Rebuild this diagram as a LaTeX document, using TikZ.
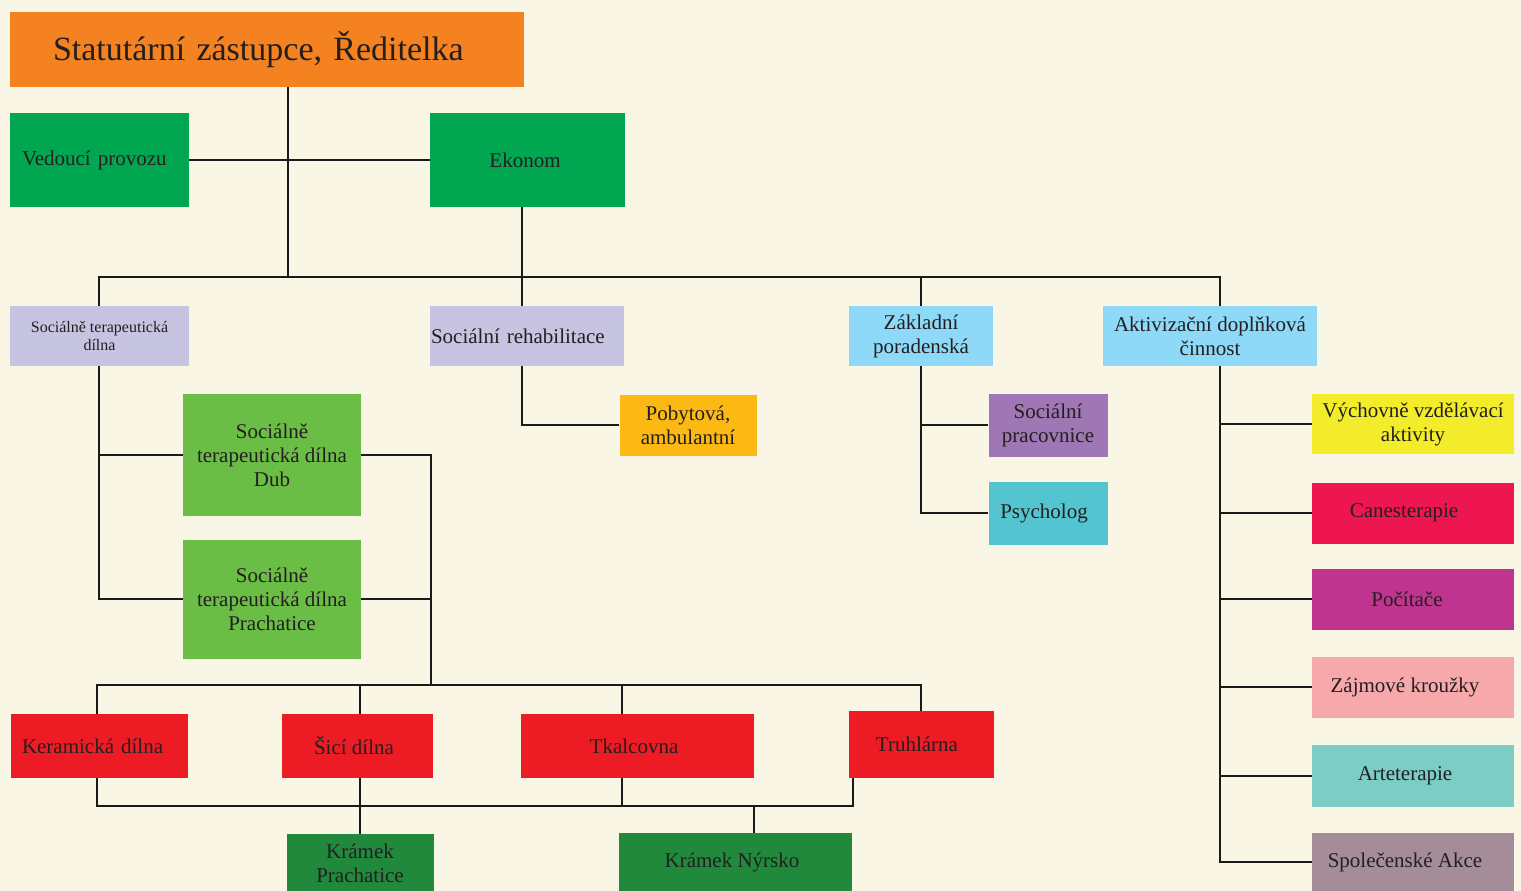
\documentclass[tikz,border=0pt]{standalone}
\usepackage{fontspec}
\setmainfont{Liberation Serif}
\definecolor{bg}{HTML}{FAF6E6}
\definecolor{txt}{HTML}{231F20}
\definecolor{linec}{HTML}{1A1A1A}
\definecolor{corange}{HTML}{F58220}
\definecolor{cgreen}{HTML}{00A650}
\definecolor{clav}{HTML}{C7C4E2}
\definecolor{clblue}{HTML}{8ED8F8}
\definecolor{cgreenb}{HTML}{6ABD45}
\definecolor{cgold}{HTML}{FDB913}
\definecolor{cpurp}{HTML}{A077B5}
\definecolor{cteal}{HTML}{54C5D0}
\definecolor{cyellow}{HTML}{F3EC2A}
\definecolor{cred}{HTML}{ED1C24}
\definecolor{ccrim}{HTML}{ED1651}
\definecolor{cmag}{HTML}{BF348F}
\definecolor{cpink}{HTML}{F6A8AA}
\definecolor{caqua}{HTML}{7BCDC5}
\definecolor{cmauve}{HTML}{A48D98}
\definecolor{cdgreen}{HTML}{21893B}
\begin{document}
\begin{tikzpicture}[x=1pt,y=-1pt,
  box/.style={rectangle, inner sep=1pt, text=txt, align=center, anchor=center,
    font=\fontsize{21}{24}\selectfont},
  conn/.style={draw=linec, line width=2pt}]
\clip (0,0) rectangle (1521,891);
\fill[bg] (0,0) rectangle (1521,891);

% nodes
\node[box, fill=corange, minimum width=514pt, minimum height=75pt, text width=428pt, align=left,
  font=\fontsize{34}{40}\selectfont] (top) at (267,49.5) {Statutární zástupce, Ředitelka};
\node[box, fill=cgreen, minimum width=179pt, minimum height=94pt, text width=155pt, align=left] (ved) at (99.5,160) {Vedoucí provozu};
\node[box, fill=cgreen, minimum width=195pt, minimum height=94pt] (eko) at (527.5,160) {Ekonom\hspace*{5pt}};

\node[box, fill=clav, minimum width=179pt, minimum height=60pt, font=\fontsize{16}{18}\selectfont] (std) at (99.5,336) {Sociálně terapeutická\\dílna};
\node[box, fill=clav, minimum width=194pt, minimum height=60pt, text width=192pt, align=left] (rehab) at (527,336) {Sociální rehabilitace};
\node[box, fill=clblue, minimum width=144pt, minimum height=60pt] (zakl) at (921,336) {Základní\\poradenská};
\node[box, fill=clblue, minimum width=214pt, minimum height=60pt] (akt) at (1210,336) {Aktivizační doplňková\\činnost};

\node[box, fill=cgreenb, minimum width=178pt, minimum height=122pt] (dub) at (272,455) {Sociálně\\terapeutická dílna\\Dub};
\node[box, fill=cgreenb, minimum width=178pt, minimum height=119pt] (prach) at (272,599) {Sociálně\\terapeutická dílna\\Prachatice};

\node[box, fill=cgold, minimum width=137pt, minimum height=61pt] (pob) at (688,425) {Pobytová,\\ambulantní};
\node[box, fill=cpurp, minimum width=119pt, minimum height=63pt] (socprac) at (1048,425) {Sociální\\pracovnice};
\node[box, fill=cteal, minimum width=119pt, minimum height=63pt] (psych) at (1048,513) {Psycholog\hspace*{8pt}};

\node[box, fill=cyellow, minimum width=202pt, minimum height=60pt] (vych) at (1413,424) {Výchovně vzdělávací\\aktivity};
\node[box, fill=ccrim, minimum width=202pt, minimum height=61pt] (cane) at (1413,513) {Canesterapie\hspace*{18pt}};
\node[box, fill=cmag, minimum width=202pt, minimum height=61pt] (poc) at (1413,599) {Počítače\hspace*{12pt}};
\node[box, fill=cpink, minimum width=202pt, minimum height=61pt] (zaj) at (1413,687) {Zájmové kroužky\hspace*{16pt}};
\node[box, fill=caqua, minimum width=202pt, minimum height=62pt] (art) at (1413,776) {Arteterapie\hspace*{16pt}};
\node[box, fill=cmauve, minimum width=202pt, minimum height=58pt] (spol) at (1413,862) {Společenské Akce\hspace*{16pt}};

\node[box, fill=cred, minimum width=177pt, minimum height=64pt, text width=155pt, align=left] (ker) at (99.5,746) {Keramická dílna};
\node[box, fill=cred, minimum width=151pt, minimum height=64pt] (sici) at (357.5,746) {Šicí dílna\hspace*{7pt}};
\node[box, fill=cred, minimum width=233pt, minimum height=64pt] (tkal) at (637.5,746) {Tkalcovna\hspace*{7pt}};
\node[box, fill=cred, minimum width=145pt, minimum height=67pt] (truh) at (921.5,744.5) {Truhlárna\hspace*{9pt}};

\node[box, fill=cdgreen, minimum width=147pt, minimum height=58pt] (kpr) at (360,863) {Krámek\\Prachatice};
\node[box, fill=cdgreen, minimum width=233pt, minimum height=58pt] (kny) at (735,862) {Krámek Nýrsko\hspace*{6pt}};

% junction coordinates
\coordinate (js) at (99,277);
\coordinate (j1) at (288,277);
\coordinate (j2) at (522,277);
\coordinate (jz) at (921,277);
\coordinate (ja) at (1220,277);
\coordinate (jd) at (431,685);
\coordinate (b3l) at (97,685);
\coordinate (s3) at (360,685);
\coordinate (t3) at (622,685);
\coordinate (b3r) at (921,685);
\coordinate (xk) at (97,806);
\coordinate (xs) at (360,806);
\coordinate (xt) at (622,806);
\coordinate (xn) at (754,806);
\coordinate (xr) at (853,806);

% connectors
\draw[conn] (top.south -| j1) -- (j1);
\draw[conn] (ved.east) -- (eko.west);
\draw[conn] (eko.south -| j2) -- (j2);
\draw[conn] (std.north -| js) -- (js) -- (ja) -- (akt.north -| ja);
\draw[conn] (j2) -- (rehab.north -| j2);
\draw[conn] (jz) -- (zakl.north);

\draw[conn] (std.south -| js) |- (prach.west);
\draw[conn] (dub.west) -- (dub.west -| js);
\draw[conn] (dub.east) -| (jd);
\draw[conn] (prach.east) -- (prach.east -| jd);

\draw[conn] (ker.north -| b3l) -- (b3l) -- (b3r) -- (truh.north -| b3r);
\draw[conn] (s3) -- (sici.north -| s3);
\draw[conn] (t3) -- (tkal.north -| t3);

\draw[conn] (ker.south -| xk) -- (xk) -- (xr) -- (truh.south -| xr);
\draw[conn] (sici.south -| xs) -- (kpr.north -| xs);
\draw[conn] (tkal.south -| xt) -- (xt);
\draw[conn] (xn) -- (kny.north -| xn);

\draw[conn] (rehab.south -| j2) |- (pob.west);

\draw[conn] (zakl.south) |- (psych.west);
\draw[conn] (socprac.west) -- (socprac.west -| zakl.south);

\draw[conn] (akt.south -| ja) |- (spol.west);
\foreach \n in {vych,cane,poc,zaj,art}
  \draw[conn] (\n.west) -- (\n.west -| ja);
\end{tikzpicture}
\end{document}
